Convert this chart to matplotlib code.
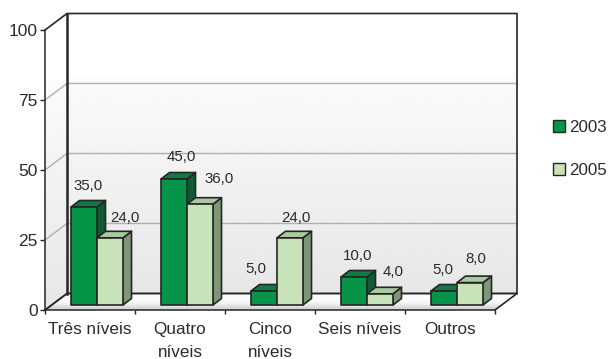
import matplotlib
matplotlib.use("Agg")
import matplotlib.pyplot as plt
import numpy as np
from matplotlib.lines import Line2D
from matplotlib.patches import Polygon

plt.rcParams['font.family'] = ['Liberation Sans', 'DejaVu Sans']

categories = ["Três níveis", "Quatro\nníveis", "Cinco\nníveis", "Seis níveis", "Outros"]
series_names = ["2003", "2005"]
values_2003 = [35.0, 45.0, 5.0, 10.0, 5.0]
values_2005 = [24.0, 36.0, 24.0, 4.0, 8.0]
y_ticks = [0, 25, 50, 75, 100]

# hand placed labels in the original, offset in px from top of bar front
label_off_2003 = [(4, 21), (7, 22), (-8, 22), (4, 21), (-1, 21)]
label_off_2005 = [(15, 20), (19, 25), (6, 20), (13, 22), (6, 24)]

W, H = 610, 359
LEFT, RIGHT, TOP, BOTTOM = 45, 495, 30, 310
CAT_PX = (RIGHT - LEFT) / len(categories)
VAL_PX = (BOTTOM - TOP) / 100
DX, DY = 22 / CAT_PX, 16.5 / VAL_PX      # depth of the box
BAR_W = 26 / CAT_PX
BAR_X0 = 26 / CAT_PX
BAR_BASE = 5 / VAL_PX
BAR_DX, BAR_DY = 8.5 / CAT_PX, 6.5 / VAL_PX
DARK = "#262626"
TEXT = "#2b2b2b"

colors_2003 = ("#069548", "#0f7a45", "#0e5b36")
colors_2005 = ("#c8e2b9", "#a9c9a0", "#7d9778")

fig = plt.figure(figsize=(W / 100, H / 100), dpi=100)
ax = fig.add_axes([LEFT / W, 1 - BOTTOM / H, (RIGHT - LEFT) / W, (BOTTOM - TOP) / H])
ax.set_xlim(0, len(categories))
ax.set_ylim(0, 100)
for s in ["top", "right"]:
    ax.spines[s].set_visible(False)
for s in ["left", "bottom"]:
    ax.spines[s].set_color(DARK)
    ax.spines[s].set_linewidth(1.1)
    ax.spines[s].set_zorder(20)
ax.patch.set_visible(False)

n = len(categories)
ymax = 100 + DY

# wall gradient, same vertical ramp on back and side wall
ramp_pos = [0, 0.22, 0.23, 0.5, 0.74, 1.0]
ramp_val = [1.0, 1.0, 0.985, 0.955, 0.93, 0.905]
grad = np.interp(np.linspace(0, 1, 200), ramp_pos, ramp_val).reshape(-1, 1)


def gradient(poly, extent, img, z=1):
    im = ax.imshow(img, extent=extent, aspect="auto", cmap="gray", vmin=0, vmax=1,
                   origin="upper", zorder=z, interpolation="bilinear")
    p = Polygon(poly, closed=True, transform=ax.transData, facecolor="none", edgecolor="none")
    ax.add_patch(p)
    p.set_clip_on(False)
    im.set_clip_path(p)
    im.set_clip_box(fig.bbox)


gradient([(DX, DY), (n + DX, DY), (n + DX, ymax), (DX, ymax)], [DX, n + DX, DY, ymax], grad)
gradient([(0, 0), (DX, DY), (DX, ymax), (0, 100)], [0, DX, 0, ymax], grad)
floor = np.interp(np.linspace(0, 1, 60), [0, 0.45, 1], [0.8, 0.97, 1.0]).reshape(-1, 1)
gradient([(0, 0), (n, 0), (n + DX, DY), (DX, DY)], [0, n + DX, DY, 0], floor, z=1.5)
ax.set_xlim(0, n)
ax.set_ylim(0, 100)

# grid on back wall and side wall
for t in y_ticks[1:-1]:
    ax.plot([0, DX, n + DX], [t, t + DY, t + DY], color="#b0b0b0", lw=1.0, zorder=2, clip_on=False)

# box outline
ax.plot([0, DX, n + DX, n + DX, n], [100, ymax, ymax, DY, 0], color=DARK, lw=1.2, zorder=3, clip_on=False)
ax.plot([DX, DX], [DY, ymax], color=DARK, lw=1.8, zorder=3, clip_on=False)
ax.plot([0, DX, n + DX], [0, DY, DY], color=DARK, lw=1.4, zorder=3, clip_on=False)


def bar3d(x, v, cols, z):
    b, t = BAR_BASE, BAR_BASE + v
    r = x + BAR_W
    kw = dict(edgecolor=DARK, linewidth=1.2, joinstyle="round", clip_on=False, zorder=z)
    ax.add_patch(Polygon([(r, b), (r + BAR_DX, b + BAR_DY), (r + BAR_DX, t + BAR_DY), (r, t)], facecolor=cols[2], **kw))
    ax.add_patch(Polygon([(x, t), (r, t), (r + BAR_DX, t + BAR_DY), (x + BAR_DX, t + BAR_DY)], facecolor=cols[1], **kw))
    ax.add_patch(Polygon([(x, b), (r, b), (r, t), (x, t)], facecolor=cols[0], **kw))


for i in range(n):
    x0 = i + BAR_X0
    bar3d(x0, values_2003[i], colors_2003, 5)
    bar3d(x0 + BAR_W, values_2005[i], colors_2005, 6)
    for x, v, off in [(x0, values_2003[i], label_off_2003[i]), (x0 + BAR_W, values_2005[i], label_off_2005[i])]:
        ax.annotate(f"{v:.1f}".replace(".", ","), (x + BAR_W / 2, v + BAR_BASE),
                    xytext=(off[0] * 0.72, off[1] * 0.72), textcoords="offset points",
                    ha="center", va="center", fontsize=10.8, color=TEXT, zorder=10,
                    annotation_clip=False)

ax.set_yticks(y_ticks)
ax.tick_params(axis="y", direction="out", length=3.6, width=1.0, color=DARK, labelsize=12.5,
               labelcolor=TEXT, pad=1.5)
ax.set_xticks(range(n + 1))
ax.set_xticklabels([])
ax.tick_params(axis="x", which="major", direction="out", length=3, width=1.0, color=DARK)
ax.set_xticks(np.arange(n) + 0.5, minor=True)
ax.set_xticklabels(categories, minor=True, fontsize=12.3, color=TEXT, linespacing=1.7)
ax.tick_params(axis="x", which="minor", length=0, pad=8.5)

handles = [Line2D([], [], linestyle="none", marker="s", markersize=8, markerfacecolor=c[0],
                  markeredgecolor=DARK, markeredgewidth=1.0) for c in (colors_2003, colors_2005)]
fig.legend(handles, series_names, loc="center left", bbox_to_anchor=(551 / W, 1 - 149 / H),
           frameon=False, fontsize=12.2, labelcolor=TEXT, handlelength=1.0, handletextpad=0.05,
           labelspacing=1.65, borderpad=0, borderaxespad=0)

fig.savefig("out.png", dpi=100, facecolor="white")
